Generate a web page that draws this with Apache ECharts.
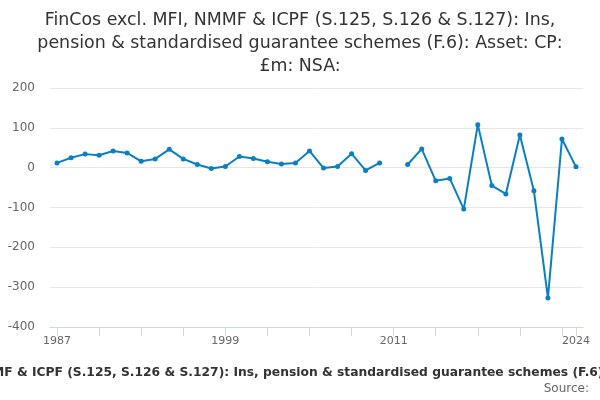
<!DOCTYPE html>
<html>
<head>
<meta charset="utf-8">
<script src="https://cdn.jsdelivr.net/npm/echarts@6/dist/echarts.min.js"></script>
<style>
html,body{margin:0;padding:0;background:#fff;}
#chart{width:600px;height:400px;}
</style>
</head>
<body>
<div id="chart"></div>
<script>
// years 1987..2024
var years = [];
for (var y = 1987; y <= 2024; y++) years.push(String(y));
// £m, 2011 missing
var values = [12, 25, 34, 31, 42, 37, 16, 22, 46, 22, 8, -2, 3, 28, 23, 15, 9, 12,
  42, -1, 3, 35, -7, 12, null, 8, 47, -33, -27, -104, 108, -45, -66, 82, -58, -327, 72, 2];
var tickLabelYears = ['1987', '1999', '2011', '2024'];
var titleText = 'FinCos excl. MFI, NMMF & ICPF (S.125, S.126 & S.127): Ins,\npension & standardised guarantee schemes (F.6): Asset: CP:\n£m: NSA:';
var axisTitle = 'FinCos excl. MFI, NMMF & ICPF (S.125, S.126 & S.127): Ins, pension & standardised guarantee schemes (F.6): Asset: CP: £m: NSA:';

var myChart = echarts.init(document.getElementById('chart'));
var option = {
    animation: false,
    textStyle: { fontFamily: 'DejaVu Sans' },
    title: {
        text: titleText,
        left: 'center',
        top: 4,
        textStyle: { fontSize: 17.4, fontWeight: 'normal', color: '#333', lineHeight: 23, fontFamily: 'DejaVu Sans' }
    },
    grid: { left: 50, right: 17, top: 88, bottom: 73 },
    xAxis: {
        type: 'category',
        data: years,
        boundaryGap: true,
        axisLine: { onZero: false, lineStyle: { color: '#ccd6eb' } },
        axisTick: {
            show: true,
            alignWithLabel: true,
            length: 9,
            lineStyle: { color: '#ccd6eb' },
            interval: function (i) { return i % 3 === 0 || i === years.length - 1; }
        },
        axisLabel: {
            color: '#666',
            fontSize: 11,
            margin: 9,
            fontFamily: 'DejaVu Sans',
            interval: function (i, v) { return tickLabelYears.indexOf(v) >= 0; }
        }
    },
    yAxis: {
        type: 'value',
        min: -400,
        max: 200,
        interval: 100,
        axisLine: { show: false },
        axisTick: { show: false },
        axisLabel: { color: '#666', fontSize: 12, margin: 15, fontFamily: 'DejaVu Sans' },
        splitLine: { lineStyle: { color: '#e6e6e6' } }
    },
    graphic: [
        {
            type: 'text', left: 'center', top: 367,
            style: { text: axisTitle, fontSize: 12.3, fontWeight: 'bold', fill: '#333', fontFamily: 'DejaVu Sans' }
        },
        {
            type: 'text', right: 11, top: 383,
            style: { text: 'Source:', fontSize: 12, fill: '#666', fontFamily: 'DejaVu Sans' }
        }
    ],
    series: [{
        type: 'line',
        data: values,
        connectNulls: false,
        symbol: 'circle',
        symbolSize: 5,
        lineStyle: { color: '#0a7fc6', width: 2 },
        itemStyle: { color: '#0a7fc6' }
    }]
};
myChart.setOption(option);
</script>
</body>
</html>
